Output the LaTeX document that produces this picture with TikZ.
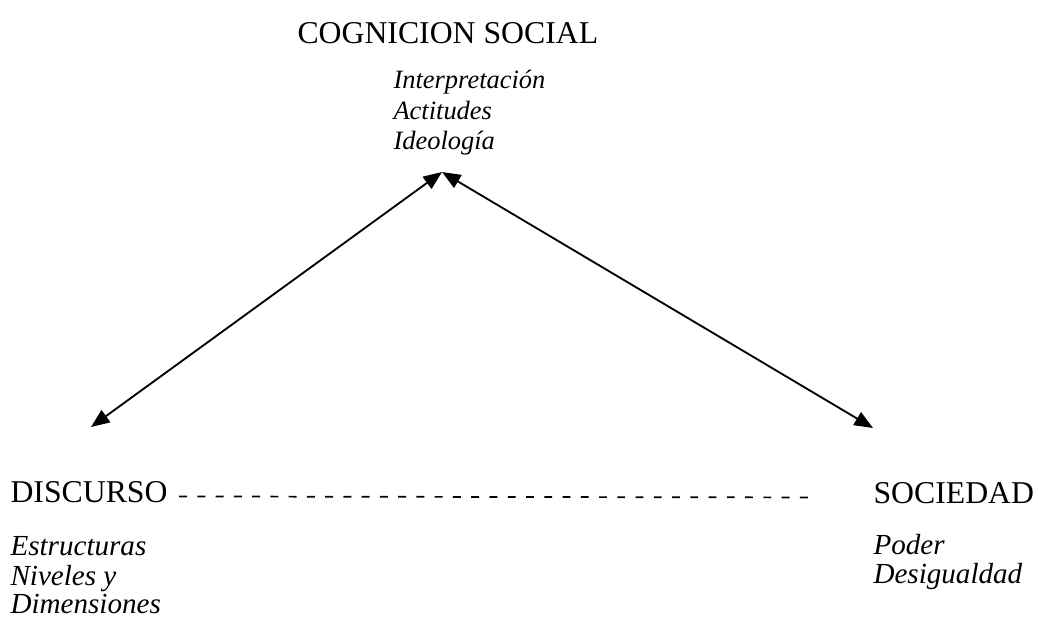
\documentclass[tikz,border=0pt]{standalone}
\usepackage{fontspec}
\setmainfont{Liberation Serif}
\usetikzlibrary{arrows.meta}

\tikzset{
    lbl/.style={inner sep=0pt, anchor=base west, font=\fontsize{12}{14}\selectfont},
    toplbl/.style={inner sep=0pt, anchor=base west, font=\fontsize{10}{12}\selectfont\itshape},
    botlbl/.style={inner sep=0pt, anchor=base west, font=\fontsize{11}{13}\selectfont\itshape},
    link/.style={line width=0.7pt, {Triangle[length=7pt,width=5.6pt]}-{Triangle[length=7pt,width=5.6pt]}},
    dashline/.style={line width=0.65pt, dash pattern=on 3pt off 3.9pt}
}

\begin{document}
\begin{tikzpicture}[x=0.378pt, y=-0.378pt]
    \useasboundingbox (0,0) rectangle (1038,626);

    \draw (297,43) node[lbl] (cog) {COGNICION SOCIAL};
    \draw (393,88) node[toplbl] (interp) {Interpretación};
    \draw (393,119) node[toplbl] (act) {Actitudes};
    \draw (393,149) node[toplbl] (ideo) {Ideología};

    \draw (10,502) node[lbl] (disc) {DISCURSO};
    \draw (10,555) node[botlbl] (estr) {Estructuras};
    \draw (10,585) node[botlbl] (niv) {Niveles y};
    \draw (10,613) node[botlbl] (dim) {Dimensiones};

    \draw (873,503) node[lbl] (soc) {SOCIEDAD};
    \draw (873,554) node[botlbl] (pod) {Poder};
    \draw (873,583) node[botlbl] (des) {Desigualdad};

    \coordinate (tiptop) at (442,172);
    \coordinate (tipleft) at (91,427);
    \coordinate (tipright) at (873,428);

    \draw[link] (tipleft) -- (tiptop);
    \draw[link] (tiptop) -- (tipright);

    \draw[dashline] ([xshift=4.2pt, yshift=2.1pt]disc.base east) -- ([xshift=-21.5pt, yshift=2.1pt]soc.base west);
\end{tikzpicture}
\end{document}
